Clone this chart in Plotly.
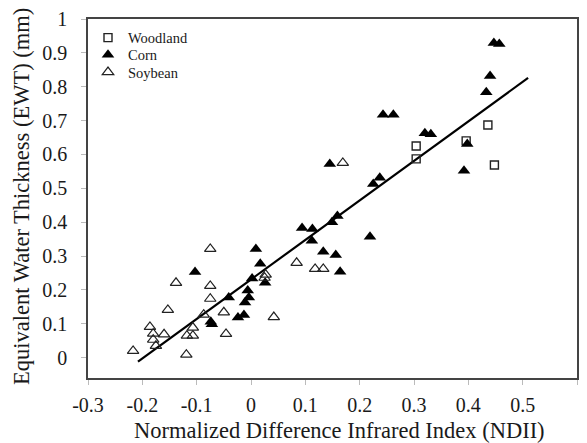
import plotly.graph_objects as go

woodland_x = [0.304, 0.304, 0.396, 0.436, 0.448]
woodland_y = [0.625, 0.587, 0.640, 0.687, 0.569]

corn_x = [-0.103, -0.074, -0.072, -0.041, -0.024, -0.013, -0.011, -0.004, -0.006, 0.002,
          0.009, 0.017, 0.026, 0.094, 0.113, 0.112, 0.133, 0.149, 0.159, 0.156,
          0.164, 0.145, 0.219, 0.225, 0.237, 0.243, 0.262, 0.320, 0.331, 0.392,
          0.398, 0.433, 0.440, 0.447, 0.457]
corn_y = [0.253, 0.106, 0.099, 0.178, 0.119, 0.126, 0.163, 0.178, 0.198, 0.234,
          0.321, 0.277, 0.221, 0.383, 0.380, 0.345, 0.313, 0.400, 0.418, 0.303,
          0.254, 0.572, 0.357, 0.513, 0.531, 0.717, 0.717, 0.663, 0.660, 0.552,
          0.631, 0.784, 0.832, 0.929, 0.926]

soy_x = [-0.217, -0.186, -0.180, -0.180, -0.175, -0.160, -0.153, -0.138, -0.119, -0.118,
         -0.107, -0.107, -0.087, -0.075, -0.075, -0.075, -0.050, -0.046, 0.027, 0.025,
         0.042, 0.084, 0.118, 0.133, 0.169]
soy_y = [0.020, 0.091, 0.071, 0.053, 0.035, 0.069, 0.141, 0.221, 0.009, 0.065,
         0.065, 0.089, 0.127, 0.321, 0.212, 0.174, 0.134, 0.070, 0.245, 0.236,
         0.120, 0.280, 0.262, 0.262, 0.575]

# Fitted regression line
fit_slope = 1.167
fit_intercept = 0.231
fit_x = [-0.208, 0.510]
fit_y = [fit_slope * v + fit_intercept for v in fit_x]

x_tickvals = [-0.3, -0.2, -0.1, 0, 0.1, 0.2, 0.3, 0.4, 0.5, 0.6]
x_ticktext = ["-0.3", "-0.2", "-0.1", "0", "0.1", "0.2", "0.3", "0.4", "0.5", "0.5"]
y_tickvals = [0, 0.1, 0.2, 0.3, 0.4, 0.5, 0.6, 0.7, 0.8, 0.9, 1.0]
y_ticktext = ["0", "0.1", "0.2", "0.3", "0.4", "0.5", "0.6", "0.7", "0.8", "0.9", "1"]

x_title = "Normalized Difference Infrared Index (NDII)"
y_title = "Equivalent Water Thickness (EWT) (mm)"

FONT = "Liberation Serif, Times New Roman, serif"
TXT = "#1a1a1a"

fig = go.Figure()
fig.add_trace(go.Scatter(x=fit_x, y=fit_y, mode="lines", line=dict(color="black", width=2.2),
                         showlegend=False, hoverinfo="skip"))
fig.add_trace(go.Scatter(x=woodland_x, y=woodland_y, mode="markers", name="Woodland",
                         legend="legend",
                         marker=dict(symbol="square-open", size=8, color="#222",
                                     line=dict(width=1.4))))
fig.add_trace(go.Scatter(x=corn_x, y=corn_y, mode="markers", name="Corn",
                         legend="legend2",
                         marker=dict(symbol="triangle-up", size=11, color="black")))
fig.add_trace(go.Scatter(x=soy_x, y=soy_y, mode="markers", name="Soybean",
                         legend="legend3",
                         marker=dict(symbol="triangle-up-open", size=10, color="#222",
                                     line=dict(width=1.2))))

leg_common = dict(x=0.0, xanchor="left", yanchor="middle",
                  font=dict(family=FONT, size=14.5, color=TXT),
                  bgcolor="rgba(0,0,0,0)", itemwidth=30)

fig.update_layout(
    width=587, height=443,
    margin=dict(l=88, r=10, t=19, b=65, autoexpand=False),
    paper_bgcolor="white", plot_bgcolor="white",
    font=dict(family=FONT, size=20, color=TXT),
    legend=dict(y=0.948, **leg_common),
    legend2=dict(y=0.900, **leg_common),
    legend3=dict(y=0.852, **leg_common),
    xaxis=dict(range=[-0.3, 0.6], tickvals=x_tickvals, ticktext=x_ticktext,
               showgrid=False, zeroline=False, showline=True, linecolor="#444",
               linewidth=1.5, mirror=True, ticks="outside", ticklen=5,
               tickcolor="#bbb", tickwidth=1, tickfont=dict(size=20),
               ticklabelstandoff=3, automargin=False),
    yaxis=dict(range=[-0.06, 1.0], tickvals=y_tickvals, ticktext=y_ticktext,
               showgrid=False, zeroline=False, showline=True, linecolor="#444",
               linewidth=1.5, mirror=True, ticks="outside", ticklen=5,
               tickcolor="#bbb", tickwidth=1, tickfont=dict(size=20),
               ticklabelstandoff=10, automargin=False),
    annotations=[
        dict(text=x_title, xref="paper", yref="paper", x=0.515, y=-0.145,
             xanchor="center", yanchor="middle", showarrow=False,
             font=dict(family=FONT, size=22.5, color=TXT)),
        dict(text=y_title, xref="paper", yref="paper", x=-0.135, y=0.507,
             xanchor="center", yanchor="middle", showarrow=False, textangle=-90,
             font=dict(family=FONT, size=22.5, color=TXT)),
    ],
)

fig.write_html("out.html")
